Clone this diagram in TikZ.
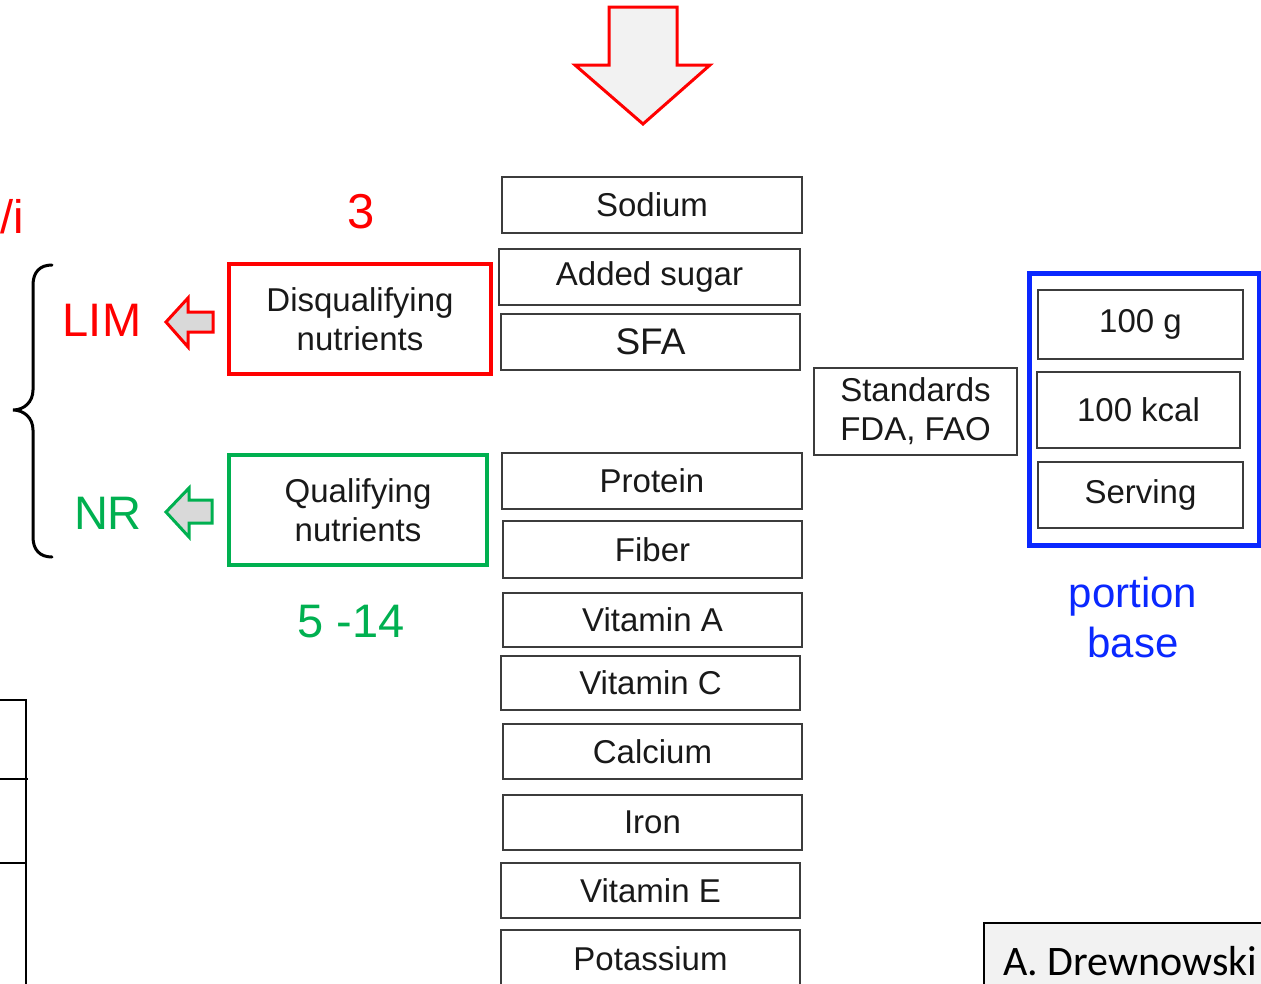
\documentclass[tikz,border=0pt]{standalone}
\usepackage{fontspec}
\setmainfont{Liberation Sans}
\newfontfamily\carlitofont{Carlito}
\definecolor{myred}{RGB}{255,0,0}
\definecolor{mygreen}{RGB}{0,176,80}
\definecolor{myblue}{RGB}{10,40,255}
\definecolor{boxgray}{RGB}{60,60,60}
\definecolor{lightfill}{RGB}{242,242,242}
\definecolor{arrowfill}{RGB}{217,217,217}
\tikzset{
  nbox/.style={draw=boxgray, line width=2pt, minimum width=300pt, minimum height=56pt, inner sep=0pt,
    font=\fontsize{33}{39}\selectfont, text=black!90},
  catbox/.style={line width=4pt, minimum width=262pt, minimum height=110pt, inner sep=0pt,
    font=\fontsize{33}{39}\selectfont, align=center, text=black!90},
  bigtxt/.style={font=\fontsize{47}{52}\selectfont, inner sep=0pt},
  smallarrow/.style={line width=3pt, fill=arrowfill, line join=miter},
}
\begin{document}
\begin{tikzpicture}[x=1pt,y=-1pt]
\useasboundingbox (0,0) rectangle (1261,983);

% top arrow
\draw[myred, line width=3pt, fill=lightfill, line join=miter]
  (609,7) -- (677,7) -- (677,65) -- (710,65) -- (643,124) -- (575,65) -- (609,65) -- cycle;

% nutrient boxes
\node[nbox] (sodium) at (652,205) {\raisebox{-2pt}{Sodium}};
\node[nbox, minimum width=301pt] (sugar) at (649.5,277) {\raisebox{-2pt}{Added sugar}};
\node[nbox, minimum width=299pt, font=\fontsize{37}{42}\selectfont] (sfa) at (650.5,342) {SFA};
\node[nbox] (protein) at (652,481) {\raisebox{-2pt}{Protein}};
\node[nbox, minimum width=299pt, minimum height=57pt] (fiber) at (652.5,549.5) {Fiber};
\node[nbox, minimum width=299pt, minimum height=54pt] (vita) at (652.5,620) {Vitamin A};
\node[nbox, minimum width=299pt, minimum height=54pt] (vitc) at (650.5,683) {Vitamin C};
\node[nbox, minimum width=299pt, minimum height=55pt] (calcium) at (652.5,751.5) {Calcium};
\node[nbox, minimum width=299pt, minimum height=55pt] (iron) at (652.5,822.5) {Iron};
\node[nbox, minimum width=299pt, minimum height=55pt] (vite) at (650.5,890.5) {Vitamin E};
\node[nbox, minimum width=299pt, minimum height=58pt] (potassium) at (650.5,959) {Potassium};

% category boxes
\node[catbox, draw=myred] (disq) at (360,319) {Disqualifying\\nutrients};
\node[catbox, draw=mygreen, minimum width=258pt] (qual) at (358,510) {Qualifying\\nutrients};

\node[bigtxt, text=myred, font=\fontsize{49}{52}\selectfont] (three) at (361,212) {3};
\node[bigtxt, text=mygreen] (range) at (351,622) {5 -14};

% LIM / NR
\node[bigtxt, text=myred] (lim) at (102,320) {LIM};
\node[bigtxt, text=mygreen] (nr) at (108,513) {NR};
\node[bigtxt, text=myred, anchor=base west] (wi) at (0,233) {/i};

% small arrows
\draw[smallarrow, draw=myred] (166,322) -- (188,298) -- (188,312) -- (213,312) -- (213,332) -- (188,332) -- (188,347) -- cycle;
\draw[smallarrow, draw=mygreen] (166,512) -- (189,488) -- (189,500) -- (212,500) -- (212,523) -- (189,523) -- (189,537) -- cycle;

% brace
\draw[black, line width=3pt, line cap=round]
  (52,265) .. controls (40,265) and (33,272) .. (33,285) -- (33,390)
  .. controls (33,402) and (24,410) .. (13,410)
  .. controls (24,410) and (33,418) .. (33,430) -- (33,537)
  .. controls (33,550) and (40,557) .. (52,557);

% standards
\node[nbox, minimum width=203pt, minimum height=87pt, align=center] (std) at (915.5,411.5) {Standards\\FDA, FAO};

% portion base
\node[draw=myblue, line width=5pt, minimum width=230pt, minimum height=272pt, inner sep=0pt] (blue) at (1144,409) {};
\node[nbox, minimum width=205pt, minimum height=69pt] (g100) at (1140.5,324.5) {\raisebox{-5pt}{100 g}};
\node[nbox, minimum width=203pt, minimum height=76pt] (kcal) at (1138.5,410) {100 kcal};
\node[nbox, minimum width=205pt, minimum height=66pt] (serv) at (1140.5,495) {\raisebox{-4pt}{Serving}};
\node[font=\fontsize{42}{50}\selectfont, text=myblue, align=center, inner sep=0pt] (portion) at (1133,617) {portion\\base};

% left table fragment
\draw[black, line width=2.5pt] (0,700) -- (26,700) -- (26,990);
\draw[black, line width=2.5pt] (0,779) -- (28,779);
\draw[black, line width=2.5pt] (0,863) -- (26,863);

% author box
\draw[black, line width=1.5pt, fill=lightfill] (984,923) rectangle (1275,1000);
\node[anchor=base west, font=\carlitofont\fontsize{42}{48}\selectfont, inner sep=0pt] (author) at (1003,975) {A. Drewnowski};
\end{tikzpicture}
\end{document}
